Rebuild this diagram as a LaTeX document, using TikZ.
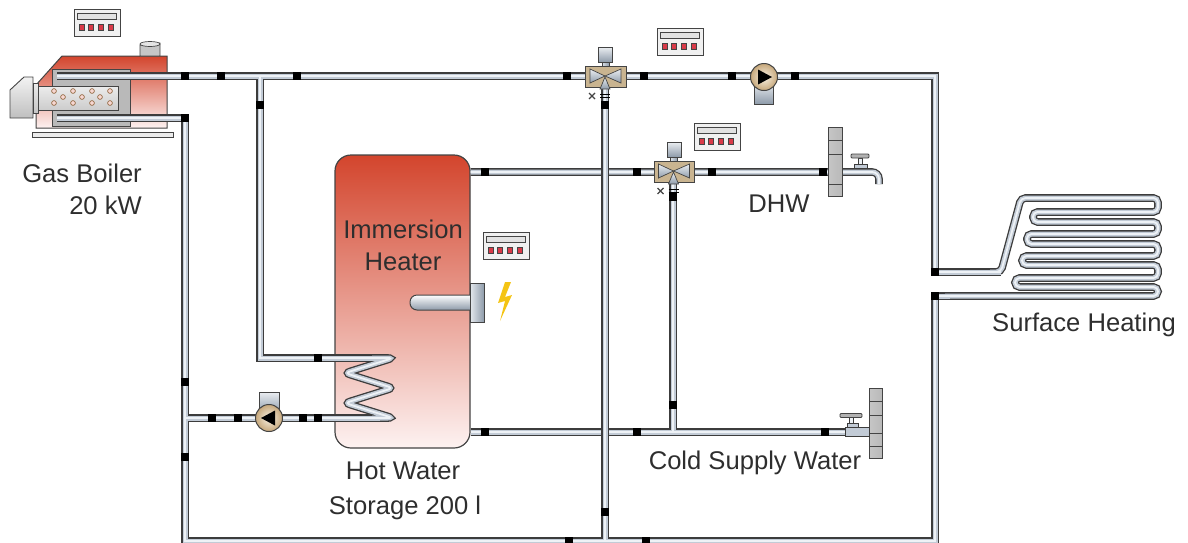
\documentclass[tikz,border=0pt]{standalone}
\usepackage{fontspec}
\setmainfont{Liberation Sans}
\usetikzlibrary{calc}

\definecolor{pipeedge}{HTML}{3C3C3C}
\definecolor{pipebody}{HTML}{C2CBD6}
\definecolor{pipelight}{HTML}{EEF2F6}
\definecolor{heatred}{HTML}{D3452D}
\definecolor{heatmid}{HTML}{EA9A8F}
\definecolor{heatpale}{HTML}{FDF2F1}
\definecolor{valvetan}{HTML}{C9B490}
\definecolor{steel}{HTML}{BCC7D3}
\definecolor{steeldark}{HTML}{8E9BAA}
\definecolor{pumpin}{HTML}{FAF2E4}
\definecolor{pumpout}{HTML}{C6A77A}
\definecolor{ctrlbg}{HTML}{F0F0F0}
\definecolor{ctrldisp}{HTML}{E2E2E2}
\definecolor{ctrlred}{HTML}{D93A48}
\definecolor{bolt}{HTML}{F4C414}
\definecolor{labelgray}{HTML}{2E2E2E}
\definecolor{outline}{HTML}{444444}

\tikzset{
  pipeA/.style={draw=pipeedge,line width=7.6},
  pipeB/.style={draw=pipebody,line width=5.0},
  pipeC/.style={draw=pipelight,line width=1.8},
  clamp/.style={rectangle,fill=black,draw=none,minimum width=8,minimum height=8,inner sep=0},
  lbl/.style={font=\fontsize{25.6}{30}\selectfont,text=labelgray,inner sep=0,anchor=base},
  ctrl/.pic={
    \draw[fill=ctrlbg,draw=outline,line width=1] (0,0) rectangle (46,27);
    \draw[fill=ctrldisp,draw=outline,line width=0.8] (3.5,4) rectangle (42.5,10.5);
    \foreach \k in {7.5,17,27,37}
      \draw[fill=ctrlred,draw=outline,line width=0.6] ({\k-2.7},15.5) rectangle ({\k+2.7},21);
  },
  mixvalve/.pic={
    \shadedraw[left color=steel!50!white,right color=steeldark,draw=outline,line width=0.8] (-3,-14) rectangle (4,-9);
    \shadedraw[top color=steel!30!white,bottom color=steeldark,draw=outline,line width=0.8] (-6.5,-29) rectangle (7.5,-14);
    \draw[fill=valvetan,draw=outline,line width=1] (-19.5,-10) rectangle (21,11);
    \shadedraw[top color=steel!30!white,bottom color=steeldark,draw=outline,line width=0.7] (-15,-7) -- (-15,7) -- (0,0) -- cycle;
    \shadedraw[top color=steel!30!white,bottom color=steeldark,draw=outline,line width=0.7] (16,-7) -- (16,7) -- (0,0) -- cycle;
    \shadedraw[top color=steel!30!white,bottom color=steeldark,draw=outline,line width=0.7] (-5,13) -- (5,13) -- (0,1) -- cycle;
    \draw[outline,line width=1.1] (-16,17) -- (-10,23) (-16,23) -- (-10,17);
    \draw[black,line width=1.3] (-5,18.5) -- (5,18.5) (-5,21.5) -- (5,21.5);
  },
  pumpright/.pic={
    \shadedraw[top color=steel!30!white,bottom color=steeldark,draw=outline,line width=0.8] (-10,5) rectangle (9.5,27);
    \shadedraw[inner color=pumpin,outer color=pumpout,draw=outline,line width=1] (0,0) circle (13.5);
    \fill[black] (-6,-7.5) -- (8,0) -- (-6,7.5) -- cycle;
  },
  pumpleft/.pic={
    \shadedraw[top color=steel!30!white,bottom color=steeldark,draw=outline,line width=0.8] (-9.5,-26) rectangle (10,-5);
    \shadedraw[inner color=pumpin,outer color=pumpout,draw=outline,line width=1] (0,0) circle (13.5);
    \fill[black] (6,-7.5) -- (-8,0) -- (6,7.5) -- cycle;
  },
}

% the whole pipe network, drawn once per layer (edge, body, highlight)
\newcommand\pipenet[1]{%
  \draw[#1] (bU) -- (cUp) -- (shIn) -- (1001,272);
  \draw[#1,rounded corners=4.5] (990,272) -- (1001,272) -- (1021,198) -- (1158,198)
     -- (1158,212) -- (1033,212) -- (1033,222) -- (1158,222)
     -- (1158,234) -- (1027,234) -- (1027,244) -- (1158,244)
     -- (1158,256) -- (1022,256) -- (1022,265) -- (1158,265)
     -- (1158,278) -- (1015,278) -- (1015,287) -- (1158,287)
     -- (1158,296) -- (945,296);
  \draw[#1] (950,296) -- (shOut) -- (tR) -- (tL) -- (tA) -- (bL);
  \draw[#1] (jA) -- (jB) -- (coilT);
  \draw[#1,rounded corners=5] (372,358) -- (393,358) -- (345,373) -- (393,388) -- (345,403) -- (393,418) -- (372,418);
  \draw[#1] (coilB) -- (jC);
  \draw[#1] (v1) -- (v1b);
  \draw[#1,rounded corners=7] (tk1) -- (v2) -- (879,172) -- (879,184);
  \draw[#1] (v2) -- (v2b);
  \draw[#1] (tk2) -- (cold);
}

\begin{document}
\begin{tikzpicture}[x=1pt,y=-1pt,line join=miter]
\useasboundingbox (0,0) rectangle (1188,542);

% junction and end points of the pipe network
\coordinate (bU) at (57,76);
\coordinate (bL) at (57,118);
\coordinate (tA) at (185,118);
\coordinate (tL) at (185,541);
\coordinate (tR) at (935,541);
\coordinate (cUp) at (935,76);
\coordinate (shIn) at (935,272);
\coordinate (shOut) at (935,296);
\coordinate (jA) at (260,76);
\coordinate (jB) at (260,358);
\coordinate (coilT) at (380,358);
\coordinate (coilB) at (380,418);
\coordinate (jC) at (185,418);
\coordinate (v1) at (605,76);
\coordinate (v1b) at (605,541);
\coordinate (tk1) at (470.5,172);
\coordinate (tk2) at (470.5,432);
\coordinate (v2) at (673,172);
\coordinate (v2b) at (673,432);
\coordinate (cold) at (870,432);

% ---------- gas boiler ----------
\draw[fill=gray!15,draw=outline,line width=0.9] (32,132) rectangle (173,137);
\shadedraw[top color=heatred,middle color=heatmid!90!heatred,bottom color=heatpale,draw=outline,line width=1]
  (62,56) -- (167,56) -- (167,128) -- (36,128) -- (36,85) -- cycle;
\shadedraw[left color=gray!45,middle color=white,right color=gray!45,draw=outline,line width=0.8]
  (140,56) -- (140,45) -- (160,43) -- (160,56) -- cycle;
\draw[fill=gray!20,draw=outline,line width=0.7] (150,44) ellipse (10 and 2.5);
\draw[fill=gray!55,draw=outline,line width=1] (52,69) rectangle (130,126);
\shadedraw[top color=gray!10,bottom color=gray!50,draw=outline,line width=0.9]
  (10,90) -- (24,77) -- (33,77) -- (33,118) -- (10,118) -- cycle;
\shadedraw[top color=gray!15,middle color=white,bottom color=gray!45,draw=outline,line width=0.9]
  (33,83) rectangle (38,113);
\shadedraw[top color=gray!15,middle color=white,bottom color=gray!40,draw=outline,line width=0.9]
  (38,86) rectangle (118,110);
\foreach \hx/\hy in {54/91,73/91,92/91,110/91,63/97,82/97,100/97,54/103,73/103,92/103,110/103}
  \draw[fill=heatmid!40,draw=brown!70!black,line width=0.6] (\hx,\hy) circle (2.4);

% ---------- storage tank ----------
\shadedraw[rounded corners=16,top color=heatred,middle color=heatmid,bottom color=heatpale,draw=outline,line width=1.2]
  (335,155) rectangle (470,448);

% ---------- pipes ----------
\pipenet{pipeA}
\pipenet{pipeB}
\pipenet{pipeC}
% the riser passes over the two horizontal lines it crosses
\draw[pipeA] (605,150) -- (605,460);
\draw[pipeB] (605,150) -- (605,460);
\draw[pipeC] (605,150) -- (605,460);

% ---------- immersion heater ----------
\shadedraw[top color=white,bottom color=steeldark,draw=outline,line width=1,rounded corners=7]
  (470,295) -- (410,295) -- (410,310) -- (470,310);
\shadedraw[left color=steel!40!white,right color=steeldark,draw=outline,line width=1]
  (470,283) rectangle (484,322);
\fill[bolt] (505,282) -- (498,303) -- (505,301) -- (500,321) -- (512,295) -- (505,297) -- (511,282) -- cycle;

% ---------- walls and taps ----------
\shadedraw[left color=gray!45,middle color=white,right color=gray!55,draw=outline,line width=0.9]
  (828,127) rectangle (842,196);
\foreach \yy in {140,154,184} \draw[outline,line width=0.9] (828,\yy) -- (842,\yy);
\draw[fill=pipebody,draw=pipeedge,line width=0.8] (854,164) rectangle (867,168.2);
\draw[fill=pipelight,draw=pipeedge,line width=0.8] (858.5,158) rectangle (862.5,164);
\draw[fill=gray!60,draw=outline,line width=0.8,rounded corners=1] (851,154) rectangle (869,158);

\shadedraw[left color=gray!45,middle color=white,right color=gray!55,draw=outline,line width=0.9]
  (869,388) rectangle (882,458);
\foreach \yy in {401,415,433,446} \draw[outline,line width=0.9] (869,\yy) -- (882,\yy);
\draw[fill=pipebody,draw=pipeedge,line width=0.8] (845,427.5) rectangle (869,436.5);
\draw[fill=pipebody,draw=pipeedge,line width=0.8] (847,423.5) rectangle (858,427.5);
\draw[fill=pipelight,draw=pipeedge,line width=0.8] (849.5,417.5) rectangle (853.5,423.5);
\draw[fill=gray!60,draw=outline,line width=0.8,rounded corners=1] (840,413.5) rectangle (862,417.5);

% ---------- valves and pumps ----------
\pic (valveA) at (605,76) {mixvalve};
\pic (valveB) at (673.5,171) {mixvalve};
\pic (pumpA) at (764,77) {pumpright};
\pic (pumpB) at (269,418) {pumpleft};

% ---------- pipe clamps ----------
\foreach \cx/\cy [count=\i] in {185/76,221/76,297/76,567/76,644/76,732/76,795/76,
    260/105,185/118,185/382,185/457,212/418,238/418,303/418,318/418,318/358,
    605/105,605/512,569/541,646/541,485/172,637/172,712/172,823/172,
    673/197,673/405,485/432,637/432,825/432,935/272,935/296}
  \node[clamp] (clamp\i) at (\cx,\cy) {};

% ---------- controllers ----------
\pic (ctrlBoiler) at (74,9) {ctrl};
\pic (ctrlValveA) at (657,28) {ctrl};
\pic (ctrlValveB) at (694,123) {ctrl};
\pic (ctrlHeater) at (483,232) {ctrl};

% ---------- labels ----------
\node[lbl,anchor=base east] (lBoiler) at (142,182) {Gas Boiler};
\node[lbl,anchor=base east] (lPower) at (142,214) {20 kW};
\node[lbl] (lImm) at (403,238) {Immersion};
\node[lbl] (lHeat) at (403,270) {Heater};
\node[lbl] (lDHW) at (779,212) {DHW};
\node[lbl] (lSurf) at (1084,331) {Surface Heating};
\node[lbl] (lHot) at (403,479) {Hot Water};
\node[lbl] (lStore) at (405,514) {Storage 200 l};
\node[lbl] (lCold) at (755,469) {Cold Supply Water};
\end{tikzpicture}
\end{document}
